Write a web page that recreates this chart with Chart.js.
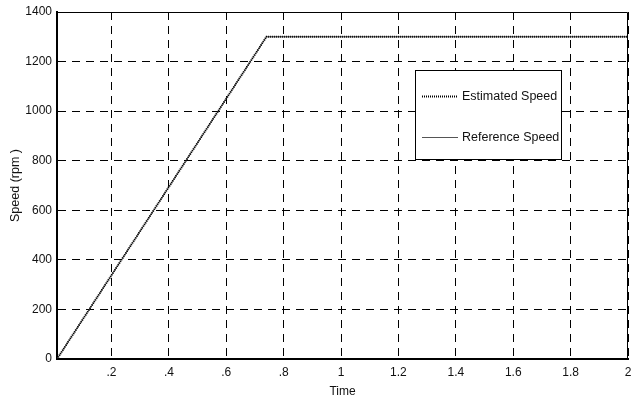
<!DOCTYPE html>
<html>
<head>
<meta charset="utf-8">
<script src="https://cdn.jsdelivr.net/npm/chart.js@4/dist/chart.umd.min.js"></script>
<style>
  html, body { margin: 0; padding: 0; background: #fff; }
  #wrap { width: 631px; height: 399px; }
</style>
</head>
<body>
<div id="wrap"><canvas id="chart" width="631" height="399"></canvas></div>
<script>
// data
const time = [0.01, 0.74, 2]
const estimatedSpeed = [0, 1300, 1300]
const referenceSpeed = [0, 1300, 1300]
const xTicks = [0.2, 0.4, 0.6, 0.8, 1, 1.2, 1.4, 1.6, 1.8, 2]
const xTickLabels = ['.2', '.4', '.6', '.8', '1', '1.2', '1.4', '1.6', '1.8', '2']
const yTicks = [0, 200, 400, 600, 800, 1000, 1200, 1400]

const FONT = "'Liberation Sans', Arial, sans-serif"

let toPoints = (xs, ys) => xs.map((x, i) => ({ x: x, y: ys[i] }))

// frame on top/right + legend box
const framePlugin = {
  id: 'frame',
  afterDraw(chart) {
    let ctx = chart.ctx
    let a = chart.chartArea
    ctx.save()
    ctx.strokeStyle = '#000'
    ctx.lineWidth = 1
    ctx.setLineDash([])
    ctx.beginPath()
    ctx.moveTo(a.left, a.top + 0.5)
    ctx.lineTo(a.right - 0.5, a.top + 0.5)
    ctx.lineTo(a.right - 0.5, a.bottom)
    ctx.stroke()

    // legend
    let bx = 415.5, by = 70.5, bw = 146, bh = 89
    ctx.fillStyle = '#fff'
    ctx.fillRect(bx, by, bw, bh)
    ctx.strokeRect(bx, by, bw, bh)
    let rows = [96, 137]
    chart.data.datasets.forEach((ds, i) => {
      ctx.save()
      ctx.strokeStyle = ds.borderColor
      ctx.lineWidth = ds.borderWidth
      ctx.setLineDash(ds.borderDash || [])
      ctx.beginPath()
      ctx.moveTo(422, rows[i] + 0.5)
      ctx.lineTo(458, rows[i] + 0.5)
      ctx.stroke()
      ctx.restore()
      ctx.fillStyle = '#111'
      ctx.font = '12.5px ' + FONT
      ctx.textBaseline = 'middle'
      ctx.textAlign = 'left'
      ctx.fillText(ds.label, 462, rows[i] + 1)
    })
    ctx.restore()
  }
}

let ctx = document.getElementById('chart').getContext('2d')
let myChart = new Chart(ctx, {
  type: 'line',
  data: {
    datasets: [{
      label: 'Estimated Speed',
      data: toPoints(time, estimatedSpeed),
      borderColor: '#000',
      borderWidth: 2,
      borderDash: [1, 1],
      pointRadius: 0,
      tension: 0,
      order: 0,
    }, {
      label: 'Reference Speed',
      data: toPoints(time, referenceSpeed),
      borderColor: '#555',
      borderWidth: 1,
      pointRadius: 0,
      tension: 0,
      order: 1,
    }]
  },
  options: {
    responsive: false,
    animation: false,
    layout: { padding: { top: 12, right: 3, left: 0, bottom: 0 } },
    plugins: {
      legend: { display: false },
      tooltip: { enabled: false },
    },
    scales: {
      x: {
        type: 'linear',
        min: 0.01,
        max: 2,
        afterBuildTicks: (scale) => { scale.ticks = xTicks.map(v => ({ value: v })) },
        afterFit: (scale) => { scale.height = 40; scale.paddingLeft = 0; scale.paddingRight = 0 },
        ticks: {
          autoSkip: false,
          maxRotation: 0,
          padding: 6,
          color: '#111',
          font: { family: FONT, size: 12 },
          callback: (v, i) => xTickLabels[i],
        },
        grid: { color: '#000', lineWidth: 1, drawTicks: false },
        border: { display: true, color: '#000', width: 2, dash: [8, 6] },
        title: {
          display: true,
          text: 'Time',
          color: '#111',
          font: { family: FONT, size: 12 },
          padding: { top: 4, bottom: 0 },
        },
      },
      y: {
        min: 0,
        max: 1400,
        afterBuildTicks: (scale) => { scale.ticks = yTicks.map(v => ({ value: v })) },
        afterFit: (scale) => { scale.width = 57; scale.paddingTop = 0; scale.paddingBottom = 0 },
        ticks: {
          padding: 5,
          color: '#111',
          font: { family: FONT, size: 12 },
          callback: (v) => String(v),
        },
        grid: { color: '#000', lineWidth: 1, drawTicks: false },
        border: { display: true, color: '#000', width: 2, dash: [8, 6] },
        title: {
          display: true,
          text: 'Speed (rpm )',
          color: '#111',
          font: { family: FONT, size: 12.5 },
          padding: { top: 8, bottom: 2 },
        },
      }
    }
  },
  plugins: [framePlugin]
})
</script>
</body>
</html>
